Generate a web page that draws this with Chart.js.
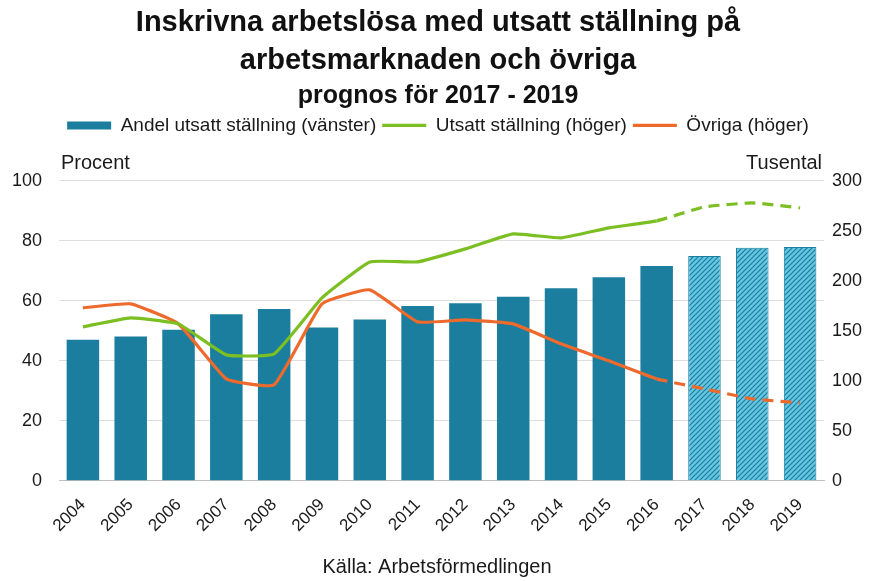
<!DOCTYPE html>
<html>
<head>
<meta charset="utf-8">
<script src="https://cdn.jsdelivr.net/npm/chart.js@4.4.0/dist/chart.umd.min.js"></script>
<style>
  html, body { margin: 0; padding: 0; background: #fff; }
  #wrap { width: 875px; height: 581px; }
</style>
</head>
<body>
<div id="wrap"><canvas id="chart"></canvas></div>
<script>
const years = ["2004", "2005", "2006", "2007", "2008", "2009", "2010", "2011",
  "2012", "2013", "2014", "2015", "2016", "2017", "2018", "2019"];
const andelUtsatt = [47, 48.1, 50.4, 55.5, 57.3, 51.1, 53.8, 58.3, 59.2, 61.4, 64.2, 67.9, 71.6, 75, 77.7, 78];
const utsattStallning = [154, 163, 157, 126, 127, 183, 219, 219, 232, 247, 243, 253, 260, 274, 278, 273];
const ovriga = [173, 177, 157, 102, 96, 177, 191, 159, 161, 157, 137, 120, 102, 92, 82, 78];
const firstForecast = 13; // 2017
const leftTicks = [0, 20, 40, 60, 80, 100];
const rightTicks = [0, 50, 100, 150, 200, 250, 300];

const FONT = '"Liberation Sans", Arial, sans-serif';
const TEAL = "#1b7e9e";
const GREEN = "#7cbf22";
const ORANGE = "#ee6a2c";

const canvas = document.getElementById("chart");

// striped fill for the forecast bars
function makeHatch() {
  const s = 5;
  const c = document.createElement("canvas");
  c.width = s;
  c.height = s;
  const x = c.getContext("2d");
  x.fillStyle = "#66c6e2";
  x.fillRect(0, 0, s, s);
  x.strokeStyle = "#1b7e9e";
  x.lineWidth = 1.2;
  x.beginPath();
  x.moveTo(0, s); x.lineTo(s, 0);
  x.moveTo(-s / 2, s / 2); x.lineTo(s / 2, -s / 2);
  x.moveTo(s / 2, s * 1.5); x.lineTo(s * 1.5, s / 2);
  x.stroke();
  return canvas.getContext("2d").createPattern(c, "repeat");
}
const hatch = makeHatch();

const barColors = years.map((y, i) => (i >= firstForecast ? hatch : TEAL));
const barBorders = years.map((y, i) => (i >= firstForecast ? 1 : 0));

const forecastDash = (ctx) => (ctx.p0DataIndex >= firstForecast - 1 ? [11, 7] : undefined);

// extra space under the legend
const legendGap = {
  id: "legendGap",
  beforeInit(chart) {
    const fit = chart.legend.fit;
    chart.legend.fit = function () {
      fit.bind(chart.legend)();
      this.height += 36;
    };
  },
};

// axis unit labels and source line
const extraText = {
  id: "extraText",
  afterDraw(chart) {
    const { ctx, chartArea } = chart;
    ctx.save();
    ctx.fillStyle = "#1a1a1a";
    ctx.font = "20px " + FONT;
    ctx.textBaseline = "alphabetic";
    ctx.textAlign = "left";
    ctx.fillText("Procent", 61, 169);
    ctx.textAlign = "right";
    ctx.fillText("Tusental", chartArea.right - 2, 169);
    ctx.textAlign = "center";
    ctx.fillText("Källa: Arbetsförmedlingen", 437, 573);
    ctx.restore();
  },
};

new Chart(canvas, {
  data: {
    labels: years,
    datasets: [
      {
        type: "bar",
        label: "Andel utsatt ställning (vänster)",
        data: andelUtsatt,
        yAxisID: "y",
        backgroundColor: barColors,
        borderColor: TEAL,
        borderWidth: barBorders,
        barPercentage: 0.68,
        categoryPercentage: 1,
        pointStyle: "rect",
        order: 1,
      },
      {
        type: "line",
        label: "Utsatt ställning (höger)",
        data: utsattStallning,
        yAxisID: "y1",
        borderColor: GREEN,
        backgroundColor: GREEN,
        borderWidth: 3.2,
        pointRadius: 0,
        tension: 0.12,
        pointStyle: "line",
        segment: { borderDash: forecastDash },
        order: 0,
      },
      {
        type: "line",
        label: "Övriga (höger)",
        data: ovriga,
        yAxisID: "y1",
        borderColor: ORANGE,
        backgroundColor: ORANGE,
        borderWidth: 3.2,
        pointRadius: 0,
        tension: 0.12,
        pointStyle: "line",
        segment: { borderDash: forecastDash },
        order: 0,
      },
    ],
  },
  options: {
    responsive: true,
    maintainAspectRatio: false,
    animation: false,
    layout: { padding: { left: 12, right: 11, top: 0, bottom: 31 } },
    plugins: {
      title: {
        display: true,
        text: ["Inskrivna arbetslösa med utsatt ställning på", "arbetsmarknaden och övriga"],
        color: "#111",
        font: { family: FONT, size: 29, weight: "bold", lineHeight: 1.3 },
        padding: { top: 4, bottom: 3 },
      },
      subtitle: {
        display: true,
        text: "prognos för 2017 - 2019",
        color: "#111",
        font: { family: FONT, size: 25, weight: "bold", lineHeight: 1.1 },
        padding: { top: 0, bottom: 0 },
      },
      legend: {
        display: true,
        labels: {
          usePointStyle: true,
          pointStyleWidth: 44,
          boxHeight: 8,
          color: "#1a1a1a",
          font: { family: FONT, size: 19 },
          padding: 6,
          sort: (a, b) => a.datasetIndex - b.datasetIndex,
        },
      },
      tooltip: { enabled: false },
    },
    scales: {
      x: {
        grid: { display: false, drawTicks: false },
        border: { display: true, color: "#bfbfbf" },
        ticks: {
          color: "#1a1a1a",
          font: { family: FONT, size: 17 },
          minRotation: 45,
          maxRotation: 45,
          padding: 14,
        },
        afterFit: (scale) => { scale.paddingLeft = 0; scale.paddingRight = 0; },
      },
      y: {
        position: "left",
        min: 0,
        max: 100,
        afterBuildTicks: (axis) => { axis.ticks = leftTicks.map((v) => ({ value: v })); },
        afterFit: (scale) => { scale.width = 47; },
        grid: { color: "#dedede", drawTicks: false },
        border: { display: false },
        ticks: { color: "#1a1a1a", font: { family: FONT, size: 18 }, padding: 17 },
      },
      y1: {
        position: "right",
        min: 0,
        max: 300,
        afterBuildTicks: (axis) => { axis.ticks = rightTicks.map((v) => ({ value: v })); },
        afterFit: (scale) => { scale.width = 40; },
        grid: { display: false, drawTicks: false },
        border: { display: false },
        ticks: { color: "#1a1a1a", font: { family: FONT, size: 18 }, padding: 8 },
      },
    },
  },
  plugins: [legendGap, extraText],
});
</script>
</body>
</html>
